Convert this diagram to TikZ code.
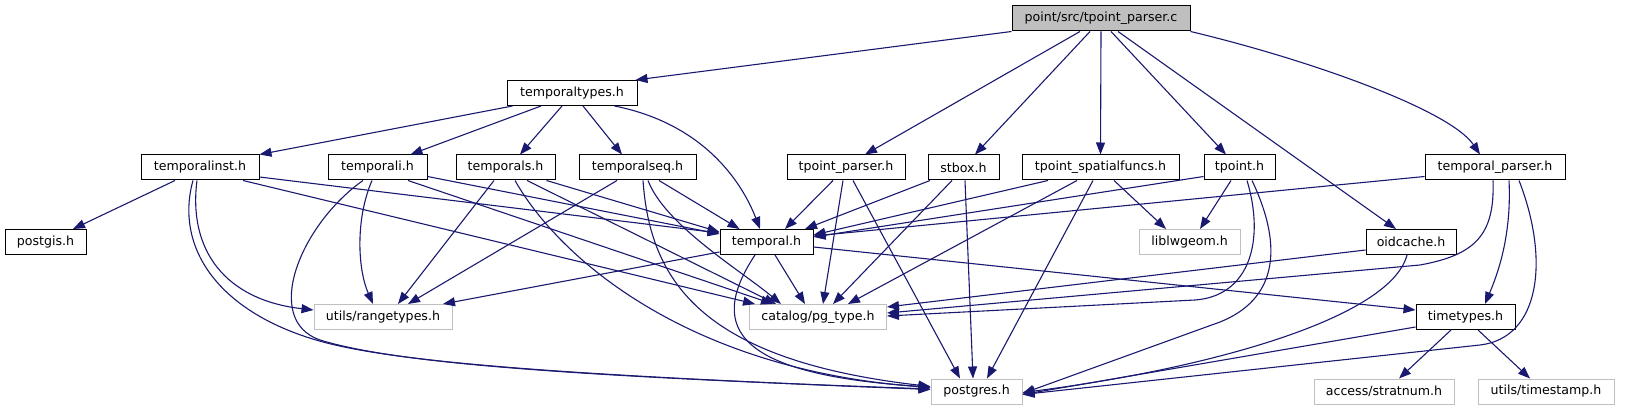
\documentclass[tikz,border=0pt]{standalone}
\usepackage{fontspec}
\setmainfont{DejaVu Sans}
\usetikzlibrary{arrows.meta}
\definecolor{dblue}{HTML}{191970}
\definecolor{grey75}{HTML}{BFBFBF}
\begin{document}
\begin{tikzpicture}[x=1pt,y=-1pt,
  nd/.style={draw=black, line width=1pt, fill=white, minimum height=25pt, inner sep=0pt,
             font=\fontsize{12.6}{14}\selectfont, text=black},
  ext/.style={nd, draw=grey75},
  dep/.style={draw=dblue, line width=1.1pt, -{Triangle[length=12pt,width=9pt]}}]
\useasboundingbox (0,0) rectangle (1627,411);
% nodes
\node[nd, fill=grey75, minimum width=178pt] (root) at (1101,18.5) {point/src/tpoint\_parser.c};
\node[nd, minimum width=130pt] (ttypes) at (572,93) {temporaltypes.h};
\node[nd, minimum width=118pt] (tinst) at (200,167.5) {temporalinst.h};
\node[nd, minimum width=99pt] (tali) at (377.5,167.5) {temporali.h};
\node[nd, minimum width=99pt] (tals) at (505.5,167.5) {temporals.h};
\node[nd, minimum width=117pt] (tseq) at (637.5,167.5) {temporalseq.h};
\node[nd, minimum width=118pt] (tpph) at (846,167.5) {tpoint\_parser.h};
\node[nd, minimum width=71pt] (stbox) at (963.5,167.5) {stbox.h};
\node[nd, minimum width=157pt] (tsf) at (1100.5,167.5) {tpoint\_spatialfuncs.h};
\node[nd, minimum width=71pt] (tpoint) at (1239.5,167.5) {tpoint.h};
\node[nd, minimum width=140pt] (tparser) at (1495,167.5) {temporal\_parser.h};
\node[nd, minimum width=81pt] (postgis) at (45.5,242) {postgis.h};
\node[nd, minimum width=93pt] (temporal) at (766.5,242) {temporal.h};
\node[ext, minimum width=101pt] (liblw) at (1189.5,242) {liblwgeom.h};
\node[nd, minimum width=90pt] (oidc) at (1411,242) {oidcache.h};
\node[ext, minimum width=138pt] (range) at (383,317) {utils/rangetypes.h};
\node[ext, minimum width=137pt] (pgtype) at (818,317) {catalog/pg\_type.h};
\node[nd, minimum width=99pt] (timet) at (1465.5,317) {timetypes.h};
\node[ext, minimum width=91pt] (postgres) at (976.5,391.5) {postgres.h};
\node[ext, minimum width=140pt] (stratnum) at (1384,391.5) {access/stratnum.h};
\node[ext, minimum width=136pt] (timestamp) at (1546,391.5) {utils/timestamp.h};
% root
\draw[dep] (root.south west) -- ([xshift=-2pt]ttypes.north east);
\draw[dep] ([xshift=-21pt]root.south) -- ([xshift=19pt]tpph.north);
\draw[dep] ([xshift=-11pt]root.south) -- ([xshift=11.5pt]stbox.north);
\draw[dep] (root.south) -- (tsf.north);
\draw[dep] ([xshift=10pt]root.south) -- ([xshift=-13.5pt]tpoint.north);
\draw[dep] ([xshift=17pt]root.south) -- ([xshift=-15pt]oidc.north);
\draw[dep] (root.south east) .. controls (1310,60) and (1450,110) .. ([xshift=-15pt]tparser.north);
% temporaltypes
\draw[dep] ([xshift=-59.5pt]ttypes.south) -- (tinst.north east);
\draw[dep] ([xshift=-31pt]ttypes.south) -- ([xshift=33pt]tali.north);
\draw[dep] ([xshift=-10pt]ttypes.south) -- ([xshift=14.5pt]tals.north);
\draw[dep] ([xshift=11pt]ttypes.south) -- ([xshift=-15.5pt]tseq.north);
\draw[dep] ([xshift=42.5pt]ttypes.south) .. controls (710,125) and (745,190) .. ([xshift=-6.5pt]temporal.north);
% temporalinst
\draw[dep] ([xshift=-25pt]tinst.south) -- ([xshift=27.5pt]postgis.north);
\draw[dep] ([xshift=-3pt]tinst.south) .. controls (188,250) and (225,300) .. ([yshift=7pt]range.west);
\draw[dep] ([xshift=-7pt]tinst.south) .. controls (175,245) and (215,310) .. (316,340) .. controls (390,362) and (560,375) .. ([yshift=2pt]postgres.west);
\draw[dep] ([xshift=43pt]tinst.south) -- ([xshift=-63pt]pgtype.north);
\draw[dep] ([yshift=-9.5pt]tinst.east) -- ([yshift=9pt]temporal.west);
% temporali
\draw[dep] ([xshift=-5.5pt]tali.south) .. controls (355,220) and (358,270) .. ([xshift=-10pt]range.north);
\draw[dep] ([xshift=-14.5pt]tali.south) .. controls (300,225) and (262,320) .. (320,340) .. controls (395,363) and (565,376) .. ([yshift=2.5pt]postgres.west);
\draw[dep] ([yshift=-9pt]tali.east) -- ([yshift=8pt]temporal.west);
\draw[dep] ([xshift=30.5pt]tali.south) -- ([xshift=-45pt]pgtype.north);
% temporals
\draw[dep] ([xshift=-11.5pt]tals.south) -- ([xshift=15pt]range.north);
\draw[dep] ([xshift=9.5pt]tals.south) .. controls (560,260) and (690,370) .. ([yshift=4pt]postgres.west);
\draw[dep] ([xshift=21.5pt]tals.south) -- ([xshift=-42pt]pgtype.north);
\draw[dep] ([xshift=41pt]tals.south) -- ([yshift=10pt]temporal.west);
% temporalseq
\draw[dep] ([xshift=-20.5pt]tseq.south) -- ([xshift=25pt]range.north);
\draw[dep] ([xshift=5.5pt]tseq.south) .. controls (650,280) and (700,360) .. ([yshift=5pt]postgres.west);
\draw[dep] ([xshift=10.5pt]tseq.south) .. controls (665,225) and (740,270) .. ([xshift=-37pt]pgtype.north);
\draw[dep] ([xshift=21.5pt]tseq.south) -- ([xshift=-27pt]temporal.north);
% temporal
\draw[dep] ([yshift=-10pt]temporal.west) -- ([xshift=60pt]range.north);
\draw[dep] ([xshift=8.5pt]temporal.south) -- ([xshift=-13pt]pgtype.north);
\draw[dep] ([xshift=-11.5pt]temporal.south) .. controls (705,330) and (740,375) .. ([yshift=4.5pt]postgres.west);
\draw[dep] ([yshift=-5pt]temporal.east) -- ([yshift=7pt]timet.west);
% tpoint_parser
\draw[dep] ([xshift=-13pt]tpph.south) -- ([xshift=18.5pt]temporal.north);
\draw[dep] ([xshift=-3pt]tpph.south) -- ([xshift=5pt]pgtype.north);
\draw[dep] ([xshift=7pt]tpph.south) -- ([xshift=-16.5pt]postgres.north);
% stbox
\draw[dep] ([xshift=-33.5pt]stbox.south) -- ([xshift=38.5pt]temporal.north);
\draw[dep] ([xshift=-11.5pt]stbox.south) -- ([xshift=15pt]pgtype.north);
\draw[dep] ([xshift=1.5pt]stbox.south) -- ([xshift=-3.5pt]postgres.north);
% tpoint_spatialfuncs
\draw[dep] ([xshift=-52.5pt]tsf.south) -- ([yshift=7pt]temporal.east);
\draw[dep] ([xshift=-23.5pt]tsf.south) -- ([xshift=30pt]pgtype.north);
\draw[dep] ([xshift=-7.5pt]tsf.south) -- ([xshift=10.5pt]postgres.north);
\draw[dep] ([xshift=13.5pt]tsf.south) -- ([xshift=-23.5pt]liblw.north);
% tpoint
\draw[dep] ([yshift=-9pt]tpoint.west) -- ([yshift=5pt]temporal.east);
\draw[dep] ([xshift=-8.5pt]tpoint.south) -- ([xshift=10.5pt]liblw.north);
\draw[dep] ([xshift=7.5pt]tpoint.south) .. controls (1265,240) and (1250,296) .. (1195,300) -- ([yshift=1pt]pgtype.east);
\draw[dep] ([xshift=12.5pt]tpoint.south) .. controls (1285,250) and (1275,300) .. (1220,322) -- ([yshift=-2pt]postgres.east);
% temporal_parser
\draw[dep] ([yshift=-9pt]tparser.west) -- ([yshift=6pt]temporal.east);
\draw[dep] ([xshift=-2pt]tparser.south) .. controls (1495,235) and (1475,255) .. (1420,265) -- ([yshift=4pt]pgtype.east);
\draw[dep] ([xshift=14pt]tparser.south) .. controls (1512,240) and (1495,280) .. ([xshift=19.5pt]timet.north);
\draw[dep] ([xshift=24pt]tparser.south) .. controls (1550,260) and (1540,338) .. (1480,345) -- ([yshift=-3pt]postgres.east);
% oidcache
\draw[dep] ([yshift=-8pt]oidc.west) -- ([yshift=10pt]pgtype.east);
\draw[dep] ([xshift=-4pt]oidc.south) .. controls (1390,320) and (1200,370) .. ([yshift=-1pt]postgres.east);
% timetypes
\draw[dep] ([yshift=-10pt]timet.west) -- ([yshift=-3pt]postgres.east);
\draw[dep] ([xshift=-14.5pt]timet.south) -- ([xshift=15pt]stratnum.north);
\draw[dep] ([xshift=12.5pt]timet.south) -- ([xshift=-16pt]timestamp.north);
\end{tikzpicture}
\end{document}
